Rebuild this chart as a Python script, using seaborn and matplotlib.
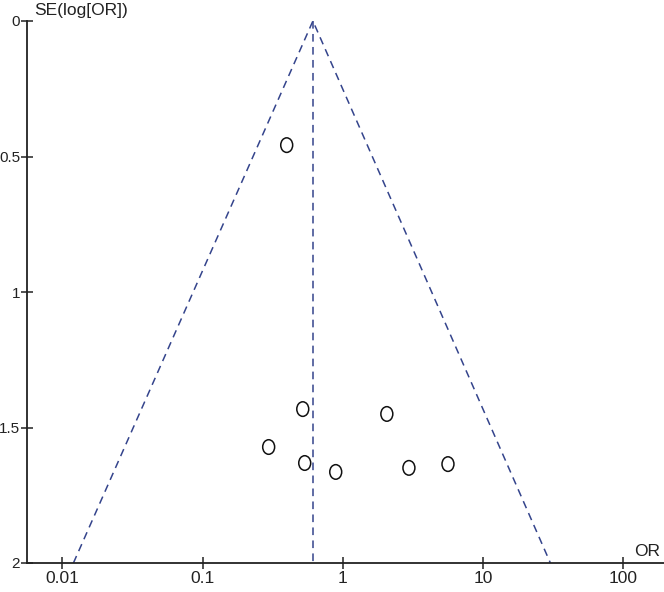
import matplotlib
matplotlib.use('Agg')
import matplotlib.pyplot as plt
from matplotlib.path import Path
from matplotlib.transforms import Affine2D
import seaborn as sns
import pandas as pd

# study points
study_or = [0.398, 0.518, 2.06, 0.296, 0.535, 0.89, 2.96, 5.62]
study_se = [0.458, 1.432, 1.450, 1.572, 1.631, 1.664, 1.649, 1.635]

# pooled estimate and 95% funnel limits
pooled_or = 0.612
funnel_or = [0.012, 0.612, 30.2]
funnel_se = [2.0, 0.0, 2.0]

x_ticks = [0.01, 0.1, 1, 10, 100]
x_labels = ['0.01', '0.1', '1', '10', '100']
y_ticks = [0, 0.5, 1, 1.5, 2]
y_labels = ['0', '0.5', '1', '1.5', '2']

sns.set_style('ticks')
plt.rcParams['font.family'] = ['Liberation Sans', 'DejaVu Sans']

fig = plt.figure(figsize=(6.64, 5.92), dpi=100)
ax = fig.add_axes([27/664, 29/592, 637/664, 542/592])

line_col = '#34448c'
df_funnel = pd.DataFrame({'OR': funnel_or, 'SE': funnel_se})
sns.lineplot(data=df_funnel, x='OR', y='SE', sort=False, estimator=None,
             color=line_col, lw=1.1, ax=ax)
ax.lines[-1].set_dashes([5, 3.5])
df_center = pd.DataFrame({'OR': [pooled_or, pooled_or], 'SE': [0.0, 2.0]})
sns.lineplot(data=df_center, x='OR', y='SE', sort=False, estimator=None,
             color=line_col, lw=1.1, ax=ax)
ax.lines[-1].set_dashes([5, 3.5])

# slightly tall oval, like the letter O in the original
oval = Path.unit_circle().transformed(Affine2D().scale(0.82, 1.0))
df_pts = pd.DataFrame({'OR': study_or, 'SE': study_se})
sns.scatterplot(data=df_pts, x='OR', y='SE', marker=oval, s=110,
                facecolor='none', edgecolor='#111111', linewidth=1.1, ax=ax, zorder=3)

ax.set_xscale('log')
ax.set_xlim(0.0056, 195)
ax.set_ylim(2, 0)
ax.set_xticks(x_ticks)
ax.set_xticklabels(x_labels)
ax.set_yticks(y_ticks)
ax.set_yticklabels(y_labels)
ax.minorticks_off()
ax.tick_params(direction='inout', length=9, width=1.1, labelsize=12.5, colors='#222222', pad=1)
ax.tick_params(axis='y', labelsize=11, pad=0.5)
ax.set_xlabel('')
ax.set_ylabel('')
sns.despine(ax=ax)
for side in ['left', 'bottom']:
    ax.spines[side].set_linewidth(1.3)
    ax.spines[side].set_color('#222222')

fig.text(34/664, 1 - 11/592, 'SE(log[OR])', fontsize=12.5, va='center', ha='left', color='#222222')
fig.text(660/664, 1 - 551/592, 'OR', fontsize=12.5, va='center', ha='right', color='#222222')

fig.savefig('out.png', dpi=100)
